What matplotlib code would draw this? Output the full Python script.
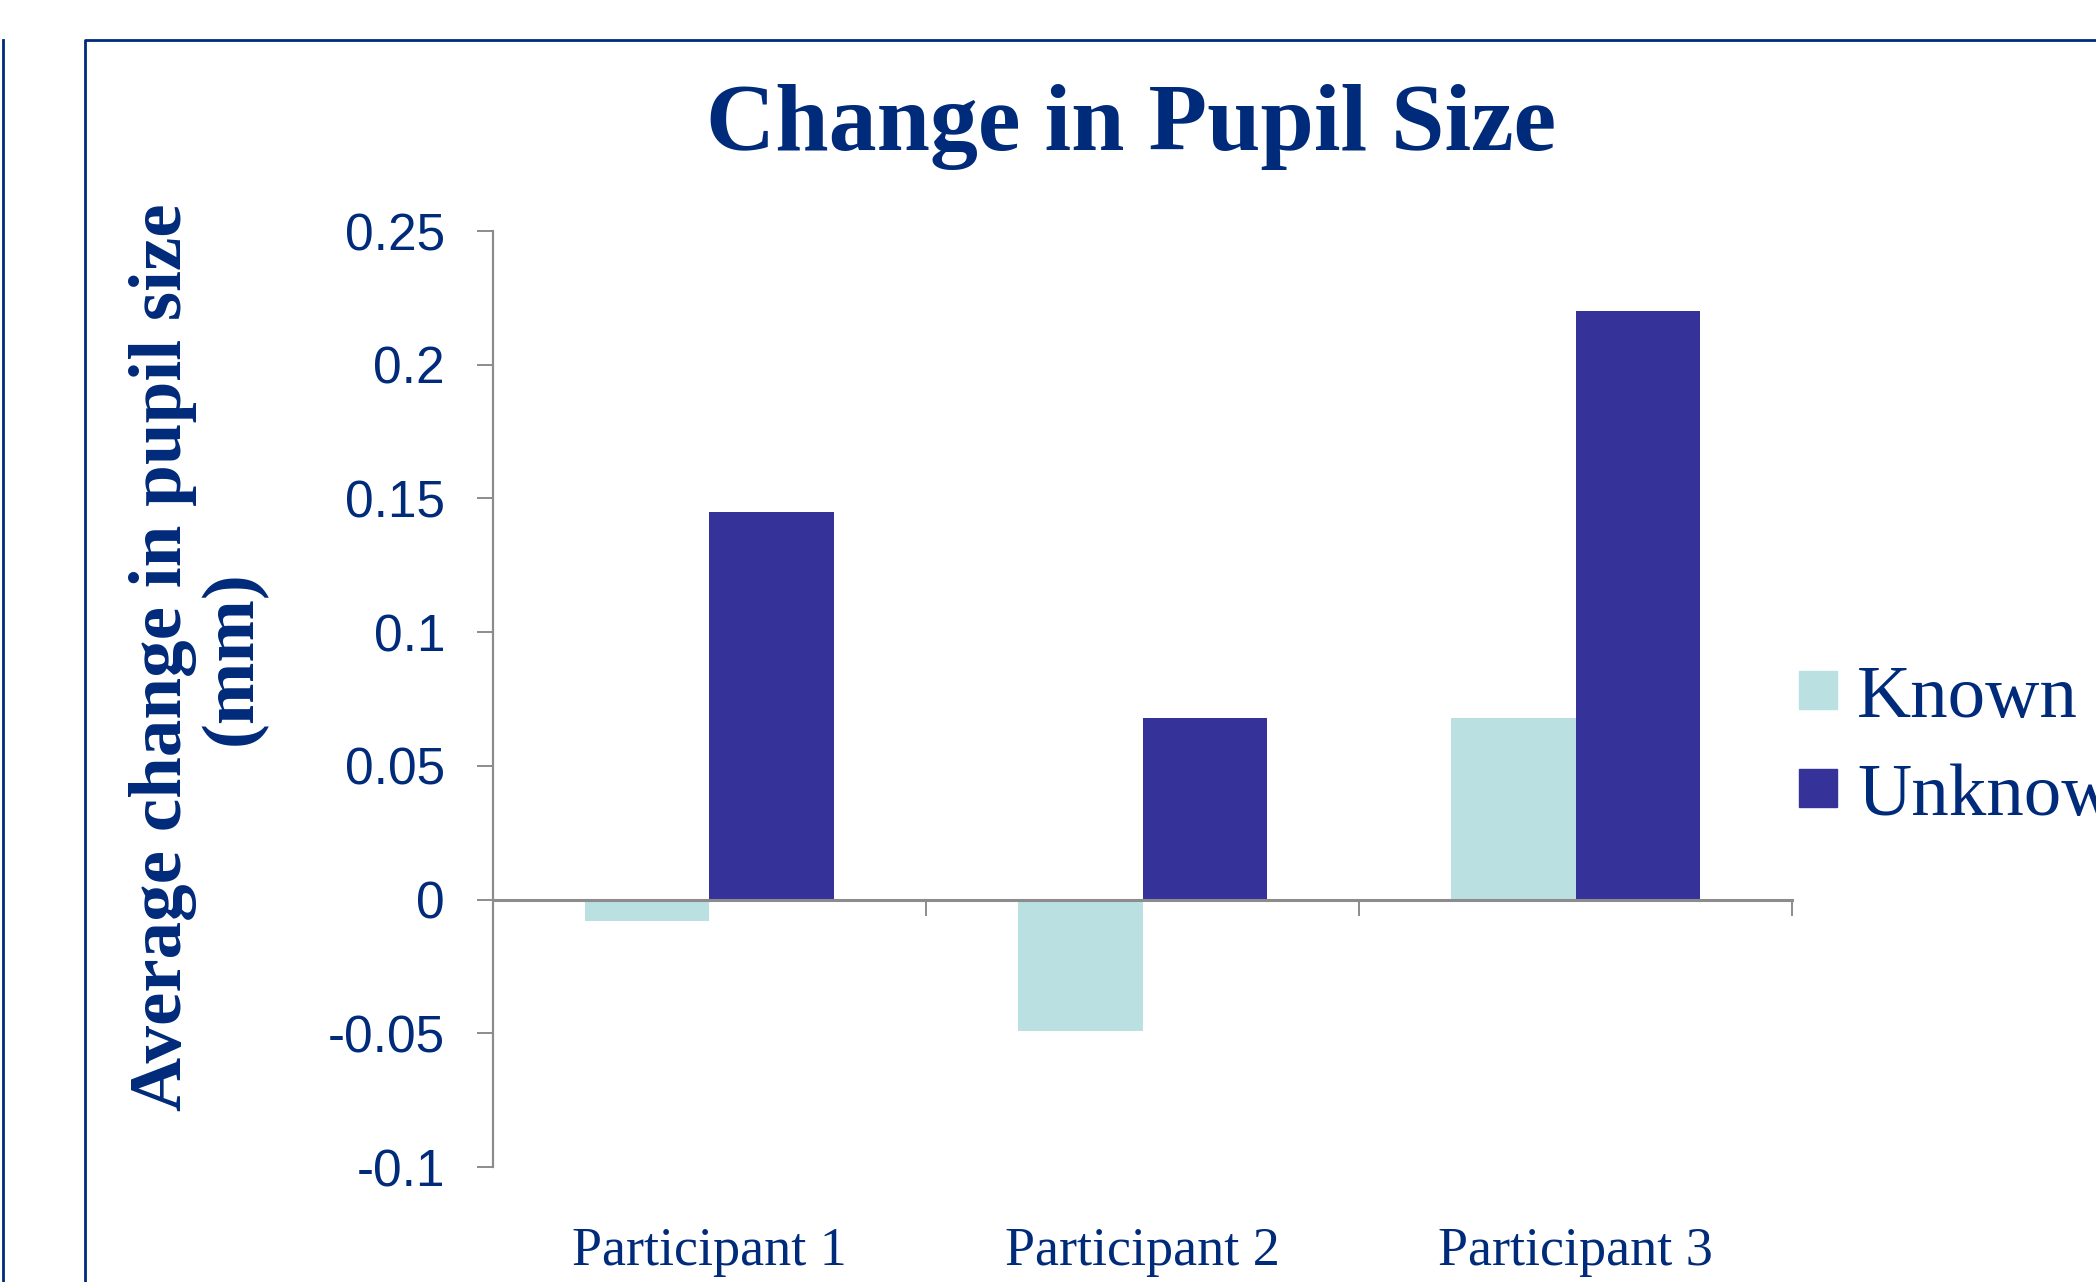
import matplotlib
matplotlib.use("Agg")
import matplotlib.pyplot as plt
import numpy as np
from matplotlib.lines import Line2D
from matplotlib.patches import Rectangle
import matplotlib.transforms as mtransforms

# data
participants = ["Participant 1", "Participant 2", "Participant 3"]
series_names = ["Known", "Unknown"]
known = [-0.008, -0.049, 0.068]
unknown = [0.145, 0.068, 0.220]
yticks = [-0.1, -0.05, 0, 0.05, 0.1, 0.15, 0.2, 0.25]
ytick_labels = ["-0.1", "-0.05", "0", "0.05", "0.1", "0.15", "0.2", "0.25"]

navy = "#002a7a"
grey = "#8c8c8c"
colors = ["#bae0e2", "#353399"]

fig = plt.figure(figsize=(20.96, 12.82), dpi=100)
ax = fig.add_axes([0.2352, 0.0897, 0.855 - 0.2352, 0.7301])

x = np.arange(len(participants))
w = 0.287
ax.bar(x - w / 2, known, w, color=colors[0], zorder=2)
ax.bar(x + w / 2, unknown, w, color=colors[1], zorder=2)

ax.set_xlim(-0.5, 2.5)
ax.set_ylim(-0.1, 0.25)

for s in ["top", "right"]:
    ax.spines[s].set_visible(False)
ax.spines["left"].set_color(grey)
ax.spines["left"].set_linewidth(1.6)
ax.spines["bottom"].set_position(("data", 0))
ax.spines["bottom"].set_color(grey)
ax.spines["bottom"].set_linewidth(2.2)
ax.spines["bottom"].set_zorder(3)

ax.set_yticks(yticks)
ax.set_yticklabels(ytick_labels, family="Liberation Sans", fontsize=37, color=navy)
ax.tick_params(axis="y", direction="out", length=11.5, width=1.4, color=grey, pad=23)

ax.set_xticks([-0.5, 0.5, 1.5, 2.5])
ax.tick_params(axis="x", direction="out", length=11.5, width=1.4, color=grey, labelbottom=False)

trans = mtransforms.blended_transform_factory(ax.transData, ax.transAxes)
for i, name in enumerate(participants):
    ax.text(i, -0.1047, name, transform=trans, ha="center", va="baseline",
            family="Liberation Serif", fontsize=39, color=navy)

fig.text(0.5396, 0.883, "Change in Pupil Size", ha="center", va="baseline",
         family="Liberation Serif", fontweight="bold", fontsize=69, color=navy)

fig.text(0.0945, 0.487, "Average change in pupil size\n(mm)", rotation=90,
         ha="center", va="center", multialignment="center", linespacing=1.05,
         family="Liberation Serif", fontweight="bold", fontsize=54, color=navy)

# legend drawn by hand at the right edge
W, H = 2096, 1282
for k, (name, c) in enumerate(zip(series_names, colors)):
    top = 671 + k * 98
    fig.patches.append(Rectangle((1799 / W, 1 - (top + 38) / H), 38 / W, 38 / H,
                                 transform=fig.transFigure, color=c))
    fig.text(1857 / W, 1 - (top + 46) / H, name, ha="left", va="baseline",
             family="Liberation Serif", fontsize=54, color=navy)

# outer frame lines
fig.add_artist(Line2D([85 / W, 85 / W, 1.0], [0, 1 - 40 / H, 1 - 40 / H],
                      transform=fig.transFigure, color=navy, lw=2))
fig.add_artist(Line2D([3 / W, 3 / W], [0, 1 - 40 / H],
                      transform=fig.transFigure, color=navy, lw=2))

fig.savefig("out.png", dpi=100)
